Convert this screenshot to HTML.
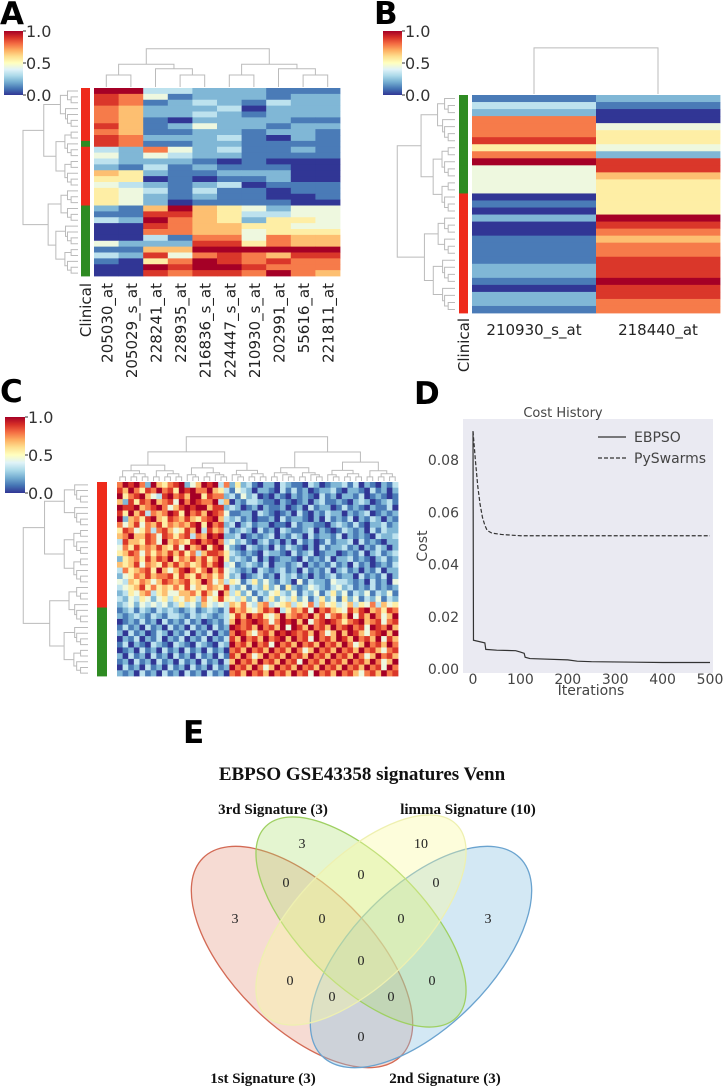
<!DOCTYPE html>
<html><head><meta charset="utf-8"><style>
html,body{margin:0;padding:0;background:#fff;}
svg{display:block;font-family:"DejaVu Sans","Liberation Sans",sans-serif;}
</style></head><body>
<svg id="fig" width="723" height="1086" viewBox="0 0 723 1086" xmlns="http://www.w3.org/2000/svg">
<defs>
<linearGradient id="cmap" x1="0" y1="1" x2="0" y2="0">
<stop offset="0" stop-color="#313695"/><stop offset="0.1" stop-color="#4575b4"/><stop offset="0.2" stop-color="#74add1"/><stop offset="0.3" stop-color="#abd9e9"/><stop offset="0.4" stop-color="#e0f3f8"/><stop offset="0.5" stop-color="#ffffbf"/><stop offset="0.6" stop-color="#fee090"/><stop offset="0.7" stop-color="#fdae61"/><stop offset="0.8" stop-color="#f46d43"/><stop offset="0.9" stop-color="#d73027"/><stop offset="1" stop-color="#a50026"/>
</linearGradient>
</defs>
<g font-weight="bold" font-size="31" fill="#000">
<text x="0" y="24">A</text>
<text x="374" y="24">B</text>
<text x="0" y="402">C</text>
<text x="414" y="404">D</text>
<text x="183" y="743">E</text>
</g>
</svg>
<script>
// ---------- data ----------
const genesA = ["205030_at","205029_s_at","228241_at","228935_at","216836_s_at","224447_s_at","210930_s_at","202991_at","55616_at","221811_at"];
const heatA = ["9933222111","8741222122","8712321322","7622230222","7622321222","7610222211","8612422122","7611221221","8722231021","8711221111",
"3274231121","4243221111","3222101000","2131211100","6521122200","5501011200","4321230111","5431311011","5421211001","5420111100",
"2169654244","1188653344","3297652554","0087665544","0077664555","0031774766","4222885766","1166999999","3284787688","1057987877","0098998777","0087887976"];
const clinicalA = "RRRRRRRRRGRRRRRRRRRRGGGGGGGGGGGG";
const genesB = ["210930_s_at","218440_at"];
const heatB1 = [1,3,2,7,7,7,8,5,7,9,4,4,4,4,0,1,0,2,0,0,1,1,1,1,2,2,1,0,2,2,1];
const heatB2 = [2,1,0,0,4,5,5,4,2,8,8,6,5,5,5,5,5,9,8,7,6,7,7,8,8,8,9,8,8,7,7];
const clinicalB = "GGGGGGGGGGGGGGRRRRRRRRRRRRRRRRR";
const heatC = [
"7989729657 8924698937 2523102203 2110320122 3130210213","8697587978 5989779653 1432022103 1312012231 0221031202",
"9578964389 7869958772 3142301021 0212103120 2213012101","6285879678 4979877936 0213321102 1012023112 1023201231",
"9889678974 6898996882 3201202112 0120312201 3121021130","8596837679 8597869874 1122032101 2031021322 0212301212",
"9267589658 7686578963 2312011203 1221020312 1302132021","7468476857 6768959782 3023122011 0312211023 2131022312",
"5874573786 4586938673 1232031203 2112302101 3212031322","6796687487 5783769892 2301212302 1320312213 0212103223",
"3866587496 7658978973 4231023120 2031201312 2303121022","4758676865 8496795894 2103212031 3210203122 3120213202",
"5687475768 6857368875 3212103221 0312301220 1213023123","2567586879 5768685795 2321302012 2103121302 2312102312",
"6568476586 8675686893 4123213022 1230212131 2031201213","3756785964 6897579684 3212032123 1203121302 3120213022",
"2457686778 5865867574 2301231203 2312021231 2203121302","4365764687 6785697463 5413524213 2041322143 3212031204",
"3456857565 7584657658 3241325241 5212432134 2312131212","2354673564 4667586496 3524132453 2413241352 4132413241",
"3243542453 5465374585 4352413524 3524135241 5241324132","2342434342 3534264343 6574367345 6354736453 4635473645",
"1231321323 2123123213 8675468793 5768497865 4868967587","2123213213 3213232123 5869785469 6787968478 6948697469",
"0121312031 2131201213 6978987479 8969478987 5789678478","1312031203 1203120312 9878697869 4986978697 8978498796",
"2031201320 2130213021 7986478698 9878697469 6986478969","0213021302 1302130213 8697869789 6978497869 8697869486",
"1302103210 3210321032 9786978497 8697869786 9746978697","0120312031 2031203120 7869786978 6974697869 7869786478",
"2031203120 3120312031 8697469786 9786978697 8697469786","1203120312 0312031203 6978697869 7849786978 6978697469",
"0312031203 1203120312 9786974697 8697869786 9786978497","2120312031 2031203120 7869786978 6978497869 7864786978"];
const clinicalC = "RRRRRRRRRRRRRRRRRRRRRRGGGGGGGGGGGG";
const itersE = [0,1,25,27,50,90,100,108,110,120,200,220,250,400,500];
const costE = [0.091,0.011,0.010,0.0075,0.0072,0.0070,0.0065,0.0060,0.0045,0.0040,0.0035,0.0030,0.0028,0.0025,0.0025];
const itersP = [0,5,10,15,20,25,30,40,60,100,500];
const costP = [0.091,0.080,0.070,0.063,0.058,0.055,0.053,0.052,0.0515,0.051,0.051];
const yTicksD = [0,0.02,0.04,0.06,0.08];
const xTicksD = [0,100,200,300,400,500];
const vennCounts = [["3",302,843],["10",421,843],["0",286,882],["0",361,874],["0",436,882],["3",235,918],["0",322,918],["0",401,918],["3",488,918],["0",361,960],["0",290,980],["0",432,980],["0",332,996],["0",391,996],["0",361,1036]];

// ---------- helpers ----------
const NS="http://www.w3.org/2000/svg";
const svg=document.getElementById('fig');
function mk(tag,attrs,parent){const e=document.createElementNS(NS,tag);for(const k in attrs)e.setAttribute(k,attrs[k]);(parent||svg).appendChild(e);return e;}
const stops=[[0,[49,54,149]],[.1,[69,117,180]],[.2,[116,173,209]],[.3,[171,217,233]],[.4,[224,243,248]],[.5,[255,255,191]],[.6,[254,224,144]],[.7,[253,174,97]],[.8,[244,109,67]],[.9,[215,48,39]],[1,[165,0,38]]];
function cmap(v){v=Math.max(0,Math.min(1,v));for(let i=1;i<stops.length;i++){if(v<=stops[i][0]){const a=stops[i-1],b=stops[i];const t=(v-a[0])/(b[0]-a[0]);const c=a[1].map((x,j)=>Math.round(x+(b[1][j]-x)*t));return `rgb(${c})`;}}return 'rgb(165,0,38)';}
function colorbar(x,y,w,h,name){
  const g=mk('g',{});
  
  
  mk('rect',{x:x,y:y,width:w,height:h,fill:'url(#cmap)'},g);
  [['1.0',0],['0.5',.5],['0.0',1]].forEach(([t,f])=>{
    mk('line',{x1:x+w,x2:x+w+3,y1:y+f*h,y2:y+f*h,stroke:'#333','stroke-width':1},g);
    const tx=mk('text',{x:x+w+3,y:y+f*h+6,'font-size':16,fill:'#333'},g);tx.textContent=t;
  });
}
function dendro(positions,base,maxLen,orient,name){
  const g=mk('g',{stroke:'#bbb','stroke-width':1,fill:'none'});
  
  
  const N=positions.length;
  function node(lo,hi,d){
    if(hi-lo===1)return{p:positions[lo],h:0};
    let mid=lo+Math.max(1,Math.floor((hi-lo)*((d%2)?0.45:0.55)));
    if(mid>=hi)mid=hi-1;
    const a=node(lo,mid,d+1),b=node(mid,hi,d+1);
    const h=maxLen*Math.pow((hi-lo)/N,0.75)*(0.85+0.15*((lo*7+hi*3)%5)/4);
    const H=Math.max(h,a.h+2,b.h+2);
    if(orient==='top'){
      mk('path',{d:`M${a.p},${base-a.h}V${base-H}H${b.p}V${base-b.h}`},g);
    }else{
      mk('path',{d:`M${base-a.h},${a.p}H${base-H}V${b.p}H${base-b.h}`},g);
    }
    return{p:(a.p+b.p)/2,h:H};
  }
  node(0,N,0);
}
function clin(ch){return ch==='R'?'#ee2a1b':'#2e8b22';}

// ---------- panel A ----------
(function(){
  const x0=94,x1=340,y0=88,y1=276;
  const nr=heatA.length,nc=genesA.length,cw=(x1-x0)/nc,rh=(y1-y0)/nr;
  const g=mk('g',{});
  
  
  heatA.forEach((row,r)=>{for(let c=0;c<nc;c++){
    const cell=mk('rect',{x:x0+c*cw,y:y0+r*rh,width:cw+0.4,height:rh+0.4,fill:cmap(+row[c]/9)},g);
    
    
  }});
  const cg=mk('g',{});
  
  
  [...clinicalA].forEach((ch,r)=>mk('rect',{x:81,y:y0+r*rh,width:9,height:rh+0.4,fill:clin(ch)},cg));
  genesA.forEach((gname,i)=>{
    const cx=x0+cw*(i+.5)+6;
    const t=mk('text',{x:cx,y:283,'font-size':15,fill:'#222','text-anchor':'end',transform:`rotate(-90 ${cx} 283)`});
    
    
    t.textContent=gname;
  });
  const t=mk('text',{x:91,y:283,'font-size':15,fill:'#222','text-anchor':'end',transform:'rotate(-90 91 283)'});
  
  
  t.textContent='Clinical';
  dendro(genesA.map((_,i)=>x0+cw*(i+.5)),87,45,'top','column-dendrogram-a');
  dendro(heatA.map((_,i)=>y0+rh*(i+.5)),78,62,'left','row-dendrogram-a');
  colorbar(4,31,19,64,'colorbar-a');
})();

// ---------- panel B ----------
(function(){
  const x0=472,x1=720,y0=95,y1=313;
  const nr=heatB1.length,cw=(x1-x0)/2,rh=(y1-y0)/nr;
  const g=mk('g',{});
  
  
  [heatB1,heatB2].forEach((col,c)=>col.forEach((v,r)=>{
    const cell=mk('rect',{x:x0+c*cw,y:y0+r*rh,width:cw+0.4,height:rh+0.4,fill:cmap(v/9)},g);
    
    
  }));
  const cg=mk('g',{});
  
  
  [...clinicalB].forEach((ch,r)=>mk('rect',{x:459,y:y0+r*rh,width:9,height:rh+0.4,fill:clin(ch)},cg));
  genesB.forEach((gname,i)=>{
    const t=mk('text',{x:x0+cw*(i+.5),y:335,'font-size':15,fill:'#222','text-anchor':'middle'});
    
    
    t.textContent=gname;
  });
  const t=mk('text',{x:469,y:318,'font-size':15,fill:'#222','text-anchor':'end',transform:'rotate(-90 469 318)'});
  
  
  t.textContent='Clinical';
  dendro(genesB.map((_,i)=>x0+cw*(i+.5)),94,52,'top','column-dendrogram-b');
  dendro(heatB1.map((_,i)=>y0+rh*(i+.5)),455,60,'left','row-dendrogram-b');
  colorbar(383,31,19,64,'colorbar-b');
})();

// ---------- panel C ----------
(function(){
  const rows=heatC.map(s=>s.replace(/ /g,''));
  const x0=117,x1=398,y0=482,y1=676;
  const nr=rows.length,nc=50,cw=(x1-x0)/nc,rh=(y1-y0)/nr;
  const g=mk('g',{});
  
  
  rows.forEach((row,r)=>{for(let c=0;c<Math.min(nc,row.length);c++){
    const cell=mk('rect',{x:x0+c*cw,y:y0+r*rh,width:cw+0.4,height:rh+0.4,fill:cmap(+row[c]/9)},g);
    
    
  }});
  const cg=mk('g',{});
  
  
  [...clinicalC].forEach((ch,r)=>mk('rect',{x:97,y:y0+r*rh,width:10,height:rh+0.4,fill:clin(ch)},cg));
  dendro(Array.from({length:nc},(_,i)=>x0+cw*(i+.5)),481,52,'top','column-dendrogram-c');
  dendro(rows.map((_,i)=>y0+rh*(i+.5)),88,70,'left','row-dendrogram-c');
  colorbar(5,417,20,76,'colorbar-c');
})();

// ---------- panel D ----------
(function(){
  const px0=463,px1=713,py0=419,py1=673;
  const X=i=>473+i*(710-473)/500;
  const Y=v=>669-v/0.02*52.25;
  const bg=mk('rect',{x:px0,y:py0,width:px1-px0,height:py1-py0,fill:'#eaeaf2'});
  
  
  const tt=mk('text',{x:563,y:417,'font-size':13,fill:'#444','text-anchor':'middle'});
  
  
  tt.textContent='Cost History';
  yTicksD.forEach(v=>{
    const t=mk('text',{x:459,y:Y(v)+5,'font-size':14,fill:'#444','text-anchor':'end'});
    
    
    t.textContent=v.toFixed(2);
  });
  xTicksD.forEach(v=>{
    const t=mk('text',{x:X(v),y:684,'font-size':14,fill:'#444','text-anchor':'middle'});
    
    
    t.textContent=v;
  });
  const yl=mk('text',{x:427,y:546,'font-size':14,fill:'#444','text-anchor':'middle',transform:'rotate(-90 427 546)'});
  
  
  yl.textContent='Cost';
  const xl=mk('text',{x:591,y:695,'font-size':14,fill:'#444','text-anchor':'middle'});
  
  
  xl.textContent='Iterations';
  const le=mk('path',{d:'M'+itersE.map((v,i)=>X(v)+','+Y(costE[i])).join('L'),fill:'none',stroke:'#333','stroke-width':1.2});
  
  
  const lp=mk('path',{d:'M'+itersP.map((v,i)=>X(v)+','+Y(costP[i])).join('L'),fill:'none',stroke:'#333','stroke-width':1.2,'stroke-dasharray':'4,2'});
  
  
  const lg=mk('g',{});
  
  
  mk('line',{x1:598,x2:626,y1:437,y2:437,stroke:'#333','stroke-width':1.2},lg);
  mk('line',{x1:598,x2:626,y1:458,y2:458,stroke:'#333','stroke-width':1.2,'stroke-dasharray':'4,2'},lg);
  const t1=mk('text',{x:634,y:442,'font-size':14,fill:'#444'},lg);t1.textContent='EBPSO';
  const t2=mk('text',{x:634,y:463,'font-size':14,fill:'#444'},lg);t2.textContent='PySwarms';
})();

// ---------- panel E ----------
(function(){
  const g=mk('g',{'font-family':'"Liberation Serif",serif'});
  
  
  const ells=[['venn-1st',302,957,45,'rgba(232,160,140,0.38)','#d36a55'],['venn-2nd',421,957,-45,'rgba(140,195,225,0.38)','#6aa3cf'],['venn-3rd',361,922,45,'rgba(170,225,110,0.32)','#9fd062'],['venn-limma',361,920,-45,'rgba(250,250,160,0.38)','#eef0b0']];
  ells.forEach(([n,cx,cy,rot,f,s])=>{
    const big=(n==='venn-3rd'||n==='venn-limma');
    const e=mk('ellipse',{cx:cx,cy:cy,rx:big?135:140,ry:big?62:70,transform:`rotate(${rot} ${cx} ${cy})`,fill:f,stroke:s,'stroke-width':1.3},g);
    
    
  });
  const title=mk('text',{x:362,y:780,'font-size':19,'font-weight':'bold','text-anchor':'middle',fill:'#111'},g);
  
  
  title.textContent='EBPSO GSE43358 signatures Venn';
  [['3rd Signature (3)',273,814],['limma Signature (10)',468,814],['1st Signature (3)',263,1083],['2nd Signature (3)',445,1083]].forEach(([s,x,y])=>{
    const t=mk('text',{x:x,y:y,'font-size':15,'font-weight':'bold','text-anchor':'middle',fill:'#111'},g);
    
    
    t.textContent=s;
  });
  vennCounts.forEach(([s,x,y])=>{
    const t=mk('text',{x:x,y:y+5,'font-size':14,'text-anchor':'middle',fill:'#222'},g);
    
    
    t.textContent=s;
  });
})();
</script>
</body></html>
